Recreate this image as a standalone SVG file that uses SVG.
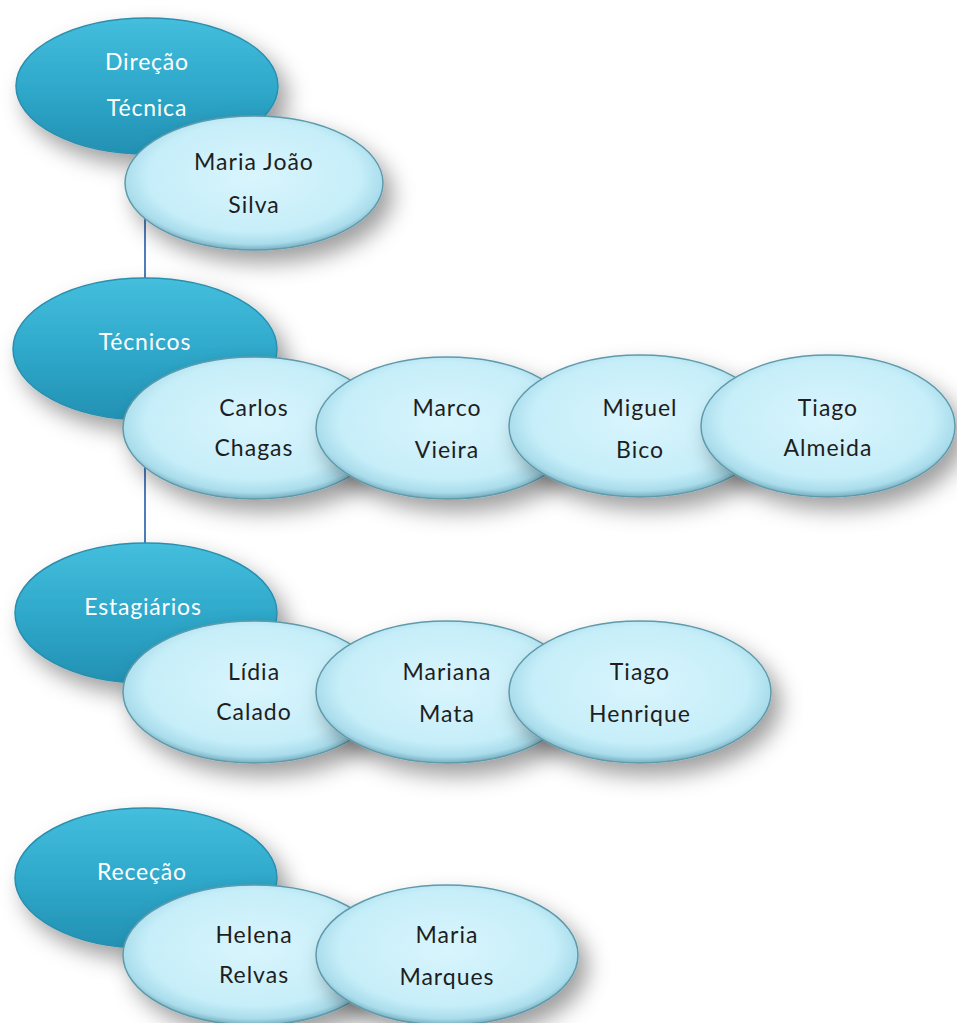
<svg xmlns="http://www.w3.org/2000/svg" width="957" height="1023" viewBox="0 0 957 1023">
<defs>
<linearGradient id="gDark" x1="0" y1="0" x2="0" y2="1">
<stop offset="0" stop-color="#45BEDD"/>
<stop offset="0.5" stop-color="#2FA9CB"/>
<stop offset="1" stop-color="#2391B3"/>
</linearGradient>
<radialGradient id="gLight" cx="0.5" cy="0.45" r="0.55">
<stop offset="0" stop-color="#D9F5FD"/>
<stop offset="0.75" stop-color="#C6EEF9"/>
<stop offset="0.92" stop-color="#A9DCEB"/>
<stop offset="1" stop-color="#78AEBF"/>
</radialGradient>
<filter id="shadow" x="-25%" y="-25%" width="160%" height="170%">
<feDropShadow dx="9" dy="12" stdDeviation="11" flood-color="#000" flood-opacity="0.38"/>
</filter>
<style>
.dark{fill:url(#gDark);stroke:#2A8FAE;stroke-width:1.5;filter:url(#shadow)}
.light{fill:url(#gLight);stroke:#5F9AAB;stroke-width:1.5;filter:url(#shadow)}
.dt{font-family:Lato,"Liberation Sans",sans-serif;font-size:23px;fill:#FFFFFF;text-anchor:middle;letter-spacing:0.8px}
.lt{font-family:Lato,"Liberation Sans",sans-serif;font-size:23px;fill:#1E1E1E;text-anchor:middle;letter-spacing:1px}
.conn{stroke:#4F7DBA;stroke-width:2;fill:none}
</style>
</defs>
<rect width="957" height="1023" fill="#FFFFFF"/>
<g id="connectors">
<line class="conn" x1="145" y1="200" x2="145" y2="560"/>
</g>
<g id="direcao-tecnica">
<ellipse class="dark" cx="147" cy="86" rx="131" ry="68"/>
<text class="dt" x="147" y="70">Direção</text>
<text class="dt" x="147" y="116">Técnica</text>
</g>
<g id="maria-joao-silva">
<ellipse class="light" cx="254" cy="183" rx="129" ry="67"/>
<text class="lt" x="254" y="170">Maria João</text>
<text class="lt" x="254" y="213">Silva</text>
</g>
<g id="tecnicos">
<ellipse class="dark" cx="145" cy="349" rx="132" ry="71"/>
<text class="dt" x="145" y="350">Técnicos</text>
</g>
<g id="carlos-chagas">
<ellipse class="light" cx="254" cy="428" rx="131" ry="71"/>
<text class="lt" x="254" y="416">Carlos</text>
<text class="lt" x="254" y="456">Chagas</text>
</g>
<g id="marco-vieira">
<ellipse class="light" cx="447" cy="428" rx="131" ry="71"/>
<text class="lt" x="447" y="416">Marco</text>
<text class="lt" x="447" y="458">Vieira</text>
</g>
<g id="miguel-bico">
<ellipse class="light" cx="640" cy="426" rx="131" ry="71"/>
<text class="lt" x="640" y="416">Miguel</text>
<text class="lt" x="640" y="458">Bico</text>
</g>
<g id="tiago-almeida">
<ellipse class="light" cx="828" cy="426" rx="127" ry="71"/>
<text class="lt" x="828" y="416">Tiago</text>
<text class="lt" x="828" y="456">Almeida</text>
</g>
<g id="estagiarios">
<ellipse class="dark" cx="146" cy="613" rx="131" ry="70"/>
<text class="dt" x="143" y="615">Estagiários</text>
</g>
<g id="lidia-calado">
<ellipse class="light" cx="254" cy="692" rx="131" ry="71"/>
<text class="lt" x="254" y="680">Lídia</text>
<text class="lt" x="254" y="720">Calado</text>
</g>
<g id="mariana-mata">
<ellipse class="light" cx="447" cy="692" rx="131" ry="71"/>
<text class="lt" x="447" y="680">Mariana</text>
<text class="lt" x="447" y="722">Mata</text>
</g>
<g id="tiago-henrique">
<ellipse class="light" cx="640" cy="692" rx="131" ry="71"/>
<text class="lt" x="640" y="680">Tiago</text>
<text class="lt" x="640" y="722">Henrique</text>
</g>
<g id="rececao">
<ellipse class="dark" cx="146" cy="878" rx="131" ry="70"/>
<text class="dt" x="142" y="880">Receção</text>
</g>
<g id="helena-relvas">
<ellipse class="light" cx="254" cy="955" rx="131" ry="70"/>
<text class="lt" x="254" y="943">Helena</text>
<text class="lt" x="254" y="983">Relvas</text>
</g>
<g id="maria-marques">
<ellipse class="light" cx="447" cy="955" rx="131" ry="70"/>
<text class="lt" x="447" y="943">Maria</text>
<text class="lt" x="447" y="985">Marques</text>
</g>
</svg>
